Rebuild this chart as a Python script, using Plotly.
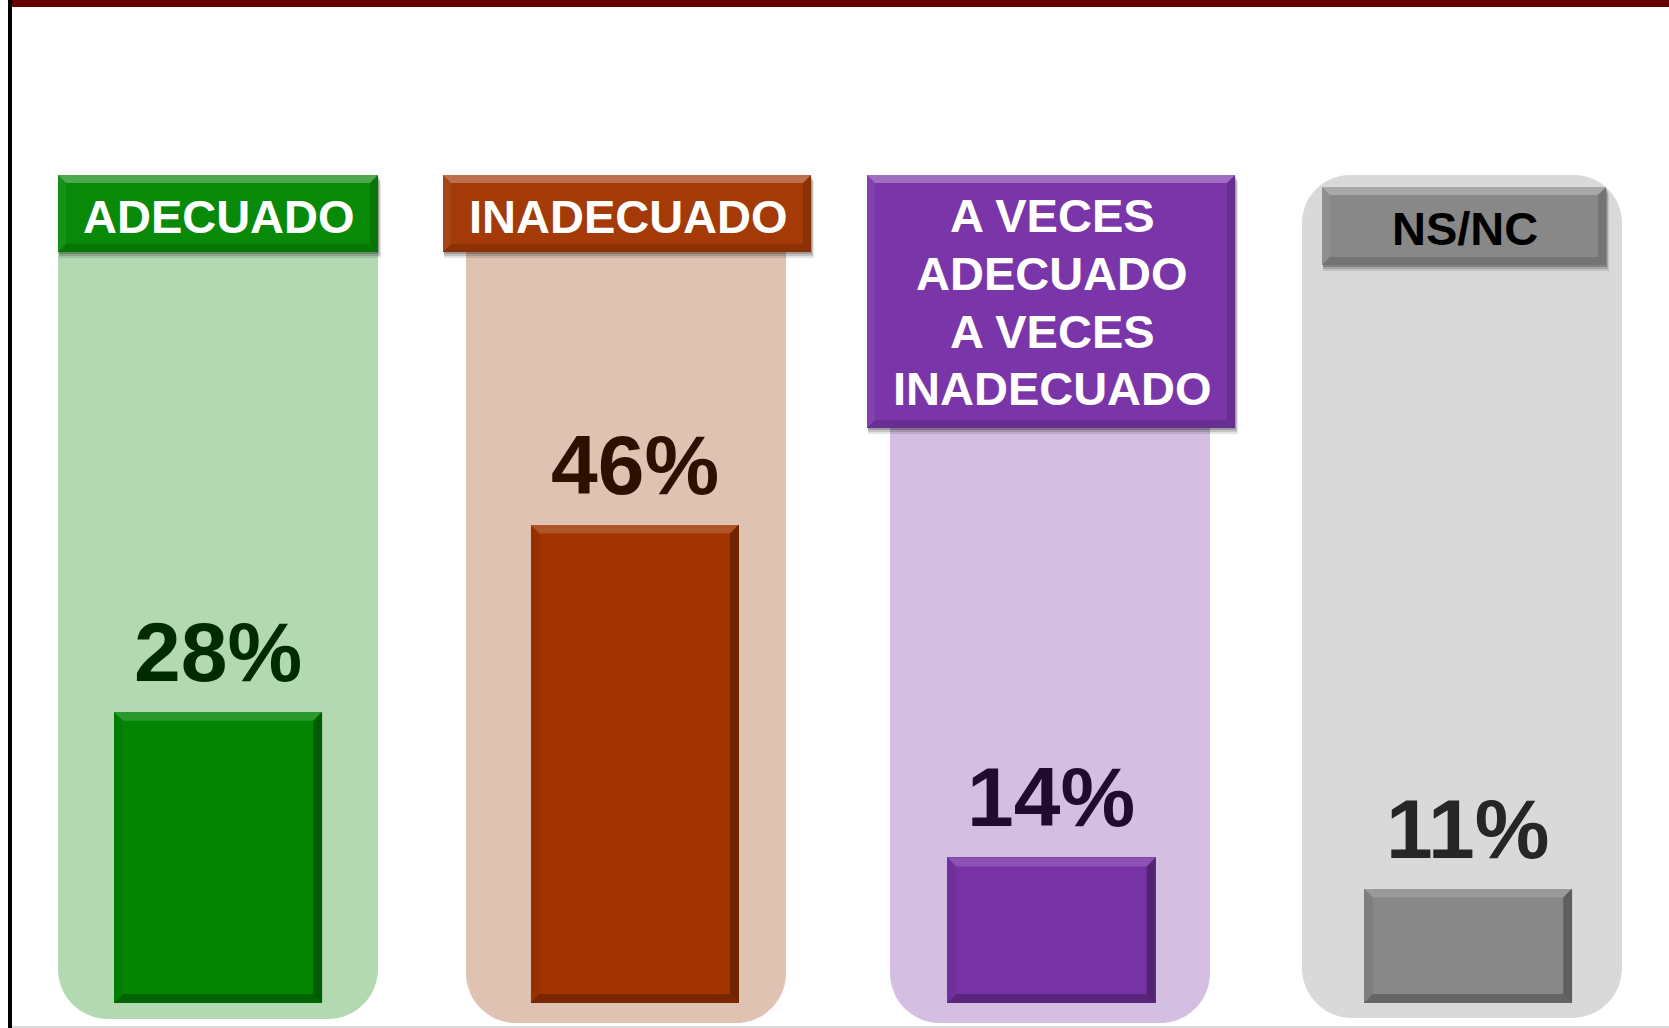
import plotly.graph_objects as go

# ---------------- data ----------------
categories = ["ADECUADO", "INADECUADO", "A VECES ADECUADO A VECES INADECUADO", "NS/NC"]
header_lines = [["ADECUADO"], ["INADECUADO"], ["A VECES", "ADECUADO", "A VECES", "INADECUADO"], ["NS/NC"]]
values = [28, 46, 14, 11]
value_labels = ["28%", "46%", "14%", "11%"]

# ---------------- styles ----------------
bar_colors = ["#038503", "#a13400", "#7733a6", "#878787"]
panel_colors = ["#b3d9b3", "#dfc2b2", "#d4bfe2", "#d9d9d9"]
header_colors = ["#088a08", "#a33a07", "#7a36a9", "#888888"]
label_colors = ["#002a00", "#2e1000", "#1f0c30", "#262626"]
header_text_colors = ["#ffffff", "#ffffff", "#ffffff", "#000000"]
FONT = "Liberation Sans, Arial, Helvetica, sans-serif"

W, H = 1669, 1028
# pixel layout of decorative panels / headers (x0, x1, y0, y1, r_top, r_bottom)
panels = [(58, 378, 175, 1019, 0, 50), (466, 786, 175, 1023, 0, 50),
          (890, 1210, 175, 1023, 0, 50), (1302, 1622, 175, 1018, 48, 50)]
headers = [(58, 378, 175, 252), (443, 811, 175, 252), (867, 1235, 175, 428), (1322, 1606, 187, 265)]
header_cx = [219, 628, 1052, 1465]
header_baselines = [[233], [233], [232, 290, 348, 405], [245]]
HFS = 47
VFS = 84

# axis scaling (pixels)
X0PX, XSTEP = 218.1, 416.65
Y0PX, YSTEP = 1003, 10.4
xr = [-X0PX / XSTEP, (W - X0PX) / XSTEP]
yr = [-(H - Y0PX) / YSTEP, Y0PX / YSTEP]
BAR_W = 0.5


def P(x, y):
    return x / W, 1 - y / H


def fmt(x, y):
    a, b = P(x, y)
    return f"{a:.6f},{b:.6f}"


def rrect(x0, x1, y0, y1, rt, rb):
    k = 0.5523
    s = "M " + fmt(x0 + rt, y0)
    s += " L " + fmt(x1 - rt, y0)
    s += " C " + fmt(x1 - rt + k * rt, y0) + " " + fmt(x1, y0 + rt - k * rt) + " " + fmt(x1, y0 + rt)
    s += " L " + fmt(x1, y1 - rb)
    s += " C " + fmt(x1, y1 - rb + k * rb) + " " + fmt(x1 - rb + k * rb, y1) + " " + fmt(x1 - rb, y1)
    s += " L " + fmt(x0 + rb, y1)
    s += " C " + fmt(x0 + rb - k * rb, y1) + " " + fmt(x0, y1 - rb + k * rb) + " " + fmt(x0, y1 - rb)
    s += " L " + fmt(x0, y0 + rt)
    s += " C " + fmt(x0, y0 + rt - k * rt) + " " + fmt(x0 + rt - k * rt, y0) + " " + fmt(x0 + rt, y0)
    return s + " Z"


def poly(pts, conv=True):
    if conv:
        return "M " + " L ".join(fmt(x, y) for x, y in pts) + " Z"
    return "M " + " L ".join(f"{x:.5f},{y:.5f}" for x, y in pts) + " Z"


shapes = []
# frame lines
shapes.append(dict(type="rect", xref="paper", yref="paper", x0=11 / W, x1=1, y0=1 - 7 / H, y1=1,
                   fillcolor="#650000", line_width=0, layer="below"))
shapes.append(dict(type="rect", xref="paper", yref="paper", x0=8 / W, x1=12 / W, y0=0, y1=1,
                   fillcolor="#000000", line_width=0, layer="below"))
shapes.append(dict(type="rect", xref="paper", yref="paper", x0=12 / W, x1=1, y0=0, y1=2 / H,
                   fillcolor="#d9d9d9", line_width=0, layer="below"))

# panels
for (x0, x1, y0, y1, rt, rb), c in zip(panels, panel_colors):
    shapes.append(dict(type="path", xref="paper", yref="paper", path=rrect(x0, x1, y0, y1, rt, rb),
                       fillcolor=c, line_width=0, layer="below"))

# headers with shadow and bevel
B = 8
for (x0, x1, y0, y1), c in zip(headers, header_colors):
    for d, a in ((6, 0.10), (4, 0.15), (2, 0.2)):
        shapes.append(dict(type="path", xref="paper", yref="paper",
                           path=poly([(x0 + 1, y0 + d), (x1 + d / 2, y0 + d), (x1 + d / 2, y1 + d), (x0 + 1, y1 + d)]),
                           fillcolor=f"rgba(0,0,0,{a})", line_width=0, layer="below"))
    shapes.append(dict(type="path", xref="paper", yref="paper", path=poly([(x0, y0), (x1, y0), (x1, y1), (x0, y1)]),
                       fillcolor=c, line_width=0, layer="below"))
    bev = [
        ([(x0, y0), (x1, y0), (x1 - B, y0 + B), (x0 + B, y0 + B)], "rgba(255,255,255,0.28)"),
        ([(x0, y1), (x1, y1), (x1 - B, y1 - B), (x0 + B, y1 - B)], "rgba(0,0,0,0.14)"),
        ([(x0, y0), (x0 + B, y0 + B), (x0 + B, y1 - B), (x0, y1)], "rgba(255,255,255,0.06)"),
        ([(x1, y0), (x1 - B, y0 + B), (x1 - B, y1 - B), (x1, y1)], "rgba(0,0,0,0.14)"),
    ]
    for pts, fc in bev:
        shapes.append(dict(type="path", xref="paper", yref="paper", path=poly(pts),
                           fillcolor=fc, line_width=0, layer="below"))

# bevel on bars (data coordinates derived from values)
bx = 9 / XSTEP
by = 9 / YSTEP
for i, v in enumerate(values):
    x0, x1 = i - BAR_W / 2, i + BAR_W / 2
    y0, y1 = 0, v
    bev = [
        ([(x0, y1), (x1, y1), (x1 - bx, y1 - by), (x0 + bx, y1 - by)], "rgba(255,255,255,0.16)"),
        ([(x0, y0), (x1, y0), (x1 - bx, y0 + by), (x0 + bx, y0 + by)], "rgba(0,0,0,0.25)"),
        ([(x0, y0), (x0 + bx, y0 + by), (x0 + bx, y1 - by), (x0, y1)], "rgba(0,0,0,0.06)"),
        ([(x1, y0), (x1 - bx, y0 + by), (x1 - bx, y1 - by), (x1, y1)], "rgba(0,0,0,0.30)"),
    ]
    for pts, fc in bev:
        shapes.append(dict(type="path", xref="x", yref="y", path=poly(pts, conv=False),
                           fillcolor=fc, line_width=0, layer="above"))

fig = go.Figure()
fig.add_trace(go.Bar(
    x=list(range(len(categories))), y=values, width=BAR_W,
    marker=dict(color=bar_colors, line=dict(width=0)),
    hovertext=categories, hoverinfo="text+y",
))

annotations = []
for i, lines in enumerate(header_lines):
    for line, base in zip(lines, header_baselines[i]):
        cy = base - 0.3465 * HFS
        annotations.append(dict(
            text=line, xref="paper", yref="paper", x=header_cx[i] / W, y=1 - cy / H,
            xanchor="center", yanchor="middle", showarrow=False, borderpad=0, borderwidth=0,
            font=dict(family=FONT, size=HFS, color=header_text_colors[i], weight="bold"),
        ))

for i, (v, lab) in enumerate(zip(values, value_labels)):
    annotations.append(dict(
        text=lab, xref="x", yref="y", x=i, y=v, xanchor="center", yanchor="bottom",
        yshift=13, showarrow=False, borderpad=0, borderwidth=0,
        font=dict(family=FONT, size=VFS, color=label_colors[i], weight="bold"),
    ))

fig.update_layout(
    width=W, height=H, margin=dict(l=0, r=0, t=0, b=0),
    paper_bgcolor="white", plot_bgcolor="rgba(0,0,0,0)",
    showlegend=False, shapes=shapes, annotations=annotations,
    xaxis=dict(range=xr, visible=False, fixedrange=True),
    yaxis=dict(range=yr, visible=False, fixedrange=True),
    bargap=0,
)

fig.write_html("out.html", config={"displayModeBar": False},
               post_script="document.body.style.margin='0';document.body.style.overflow='hidden';")
